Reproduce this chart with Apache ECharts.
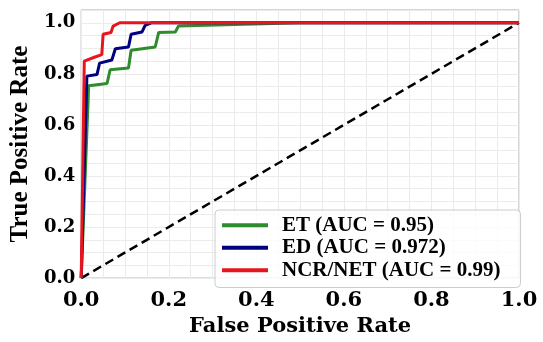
<!DOCTYPE html>
<html>
<head>
<meta charset="utf-8">
<script src="https://cdn.jsdelivr.net/npm/echarts@6/dist/echarts.min.js"></script>
<style>
  html, body { margin: 0; padding: 0; background: #fff; }
  #roc { width: 543px; height: 342px; }
</style>
</head>
<body>
<div id="roc"></div>
<script>
// ROC 曲线数据
const fprET = [0, 0.017, 0.059, 0.066, 0.108, 0.114, 0.169, 0.177, 0.215, 0.222, 0.35, 0.5, 1.0];
const tprET = [0, 0.753, 0.762, 0.816, 0.823, 0.892, 0.905, 0.962, 0.964, 0.987, 0.993, 1.0, 1.0];

const fprED = [0, 0.013, 0.036, 0.042, 0.070, 0.078, 0.108, 0.114, 0.139, 0.146, 0.16, 1.0];
const tprED = [0, 0.791, 0.797, 0.842, 0.854, 0.898, 0.905, 0.955, 0.964, 0.99, 1.0, 1.0];

const fprNCR = [0, 0.007, 0.03, 0.047, 0.05, 0.068, 0.073, 0.088, 1.0];
const tprNCR = [0, 0.85, 0.865, 0.875, 0.955, 0.962, 0.987, 1.0, 1.0];

const chanceX = [0, 1];
const chanceY = [0, 1];

const seriesNames = ['ET (AUC = 0.95)', 'ED (AUC = 0.972)', 'NCR/NET (AUC = 0.99)'];
const seriesColors = ['#2e8b2e', '#000080', '#e8141e'];

const pairs = (xs, ys) => xs.map((x, i) => [x, ys[i]]);

// 只显示 0.2 的整数倍
function majorLabel(v) {
  const k = Math.round(v * 5);
  if (Math.abs(v * 5 - k) > 1e-6 || v > 1.0001) return '';
  return (k / 5).toFixed(1);
}

const gridLine = { show: true, lineStyle: { color: '#ebebeb', width: 1 } };

const myChart = echarts.init(document.getElementById('roc'));
const curves = [[fprET, tprET], [fprED, tprED], [fprNCR, tprNCR]];

const option = {
  animation: false,
  backgroundColor: '#fff',
  grid: {
    left: 81, right: 24, top: 10, bottom: 55,
    show: true, borderColor: '#aaaaaa', borderWidth: 1
  },
  xAxis: {
    type: 'value',
    min: 0, max: 1, interval: 0.05,
    name: 'False Positive Rate',
    nameLocation: 'middle',
    nameGap: 32,
    nameTextStyle: { fontFamily: 'DejaVu Serif', fontWeight: 'bold', fontSize: 21, color: '#000' },
    axisLine: { show: false },
    axisTick: { show: false },
    axisLabel: {
      formatter: majorLabel, margin: 12,
      fontFamily: 'DejaVu Serif', fontWeight: 'bold', fontSize: 21, color: '#000'
    },
    splitLine: gridLine
  },
  yAxis: {
    type: 'value',
    min: 0, max: 1.05, interval: 0.05,
    name: 'True Positive Rate',
    nameLocation: 'middle',
    nameGap: 48,
    nameTextStyle: { fontFamily: 'Liberation Serif', fontWeight: 'bold', fontSize: 25, color: '#000' },
    axisLine: { show: false },
    axisTick: { show: false },
    axisLabel: {
      formatter: majorLabel, margin: 6,
      fontFamily: 'DejaVu Serif', fontWeight: 'bold', fontSize: 18, color: '#000'
    },
    splitLine: gridLine
  },
  legend: {
    orient: 'vertical',
    left: 215, top: 210,
    padding: [4, 20, 6, 7],
    itemGap: 0,
    itemWidth: 46, itemHeight: 4,
    icon: 'rect',
    backgroundColor: 'rgba(255,255,255,0.8)',
    borderColor: '#cccccc', borderWidth: 1, borderRadius: 4,
    selectedMode: false,
    textStyle: {
      fontFamily: 'Liberation Serif', fontWeight: 'bold', fontSize: 21,
      color: '#000', lineHeight: 22.5, padding: [0, 0, 0, 9]
    },
    data: seriesNames
  },
  series: curves.map((c, i) => ({
    name: seriesNames[i],
    type: 'line',
    symbol: 'none',
    color: seriesColors[i],
    lineStyle: { width: 3, color: seriesColors[i] },
    data: pairs(c[0], c[1]),
    z: 3 + i
  })).concat([{
    name: 'chance',
    type: 'line',
    symbol: 'none',
    lineStyle: { width: 2.5, color: '#000', type: [9, 5] },
    data: pairs(chanceX, chanceY),
    z: 2
  }])
};
myChart.setOption(option);
</script>
</body>
</html>
